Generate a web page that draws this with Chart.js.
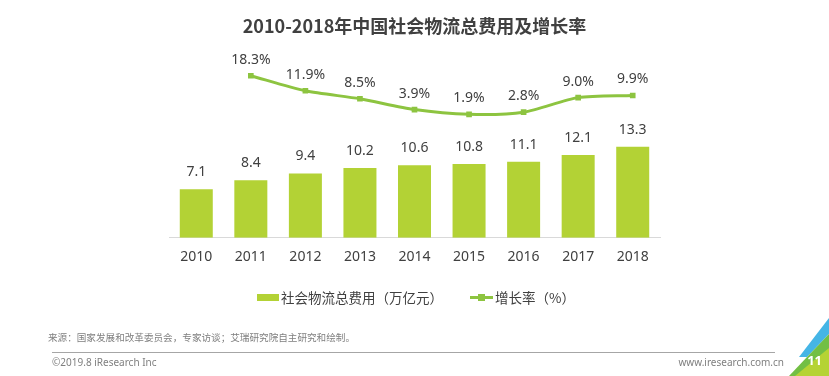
<!DOCTYPE html>
<html>
<head>
<meta charset="utf-8">
<script src="https://cdn.jsdelivr.net/npm/chart.js@4.4.1/dist/chart.umd.min.js"></script>
<style>
  html, body { margin: 0; padding: 0; background: #fff; }
  body { width: 829px; height: 376px; position: relative; overflow: hidden;
         font-family: "Noto Sans", "Noto Sans CJK SC", sans-serif; }
  #wrap { position: absolute; left: 0; top: 0; width: 829px; height: 376px; }
  .abs { position: absolute; white-space: nowrap; }
  #title { left: 0; width: 829px; top: 13px; text-align: center; font-size: 18px; font-weight: bold;
           color: #404040; font-family: "Noto Sans CJK SC", "Noto Sans", sans-serif; line-height: 24px; }
  .leg { font-size: 13.5px; color: #404040; font-family: "Noto Sans CJK SC", sans-serif; line-height: 18px; }
  #src { left: 48px; top: 330px; font-size: 9.6px; color: #7f7f7f; font-family: "Noto Sans CJK SC", sans-serif; line-height: 14px; }
  #sep { left: 52px; top: 352px; width: 723px; height: 1px; background: #a6a6a6; }
  #copy { left: 52px; top: 355px; font-size: 10px; color: #7f7f7f; line-height: 14px; }
  #web { right: 45px; top: 355px; font-size: 10px; color: #7f7f7f; line-height: 14px; }
  #deco { position: absolute; left: 0; top: 0; }
  #pg { right: 7px; top: 352px; font-size: 13px; font-weight: bold; color: #fff; line-height: 16px; }
</style>
</head>
<body>
<div id="wrap"><canvas id="c" width="829" height="376"></canvas></div>
<div class="abs" id="title">2010-2018年中国社会物流总费用及增长率</div>

<div class="abs" style="left:257px;top:294px;width:22px;height:7px;background:#b3d235;"></div>
<div class="abs leg" style="left:281px;top:288px;">社会物流总费用（万亿元）</div>
<div class="abs" style="left:470px;top:296px;width:23px;height:3px;background:#8dc440;"></div>
<div class="abs" style="left:478px;top:294px;width:7px;height:7px;background:#8dc440;"></div>
<div class="abs leg" style="left:495px;top:288px;">增长率（%）</div>

<div class="abs" id="src">来源：国家发展和改革委员会，专家访谈；艾瑞研究院自主研究和绘制。</div>
<div class="abs" id="sep"></div>
<div class="abs" id="copy">©2019.8 iResearch Inc</div>
<div class="abs" id="web">www.iresearch.com.cn</div>
<svg id="deco" width="829" height="376">
  <polygon points="829,318 829,334 807,357 799,357" fill="#45b5e6"/>
  <polygon points="829,334 829,376 789,376 807,357" fill="#72bf44"/>
  <polygon points="829,348 829,376 795,376" fill="#b5d334"/>
</svg>
<div class="abs" id="pg">11</div>

<script>
const years = ["2010","2011","2012","2013","2014","2015","2016","2017","2018"];
const logisticsCost = [7.1, 8.4, 9.4, 10.2, 10.6, 10.8, 11.1, 12.1, 13.3];
const growthRate = [null, 18.3, 11.9, 8.5, 3.9, 1.9, 2.8, 9.0, 9.9];

const labelPlugin = {
  id: 'valueLabels',
  afterDatasetsDraw(chart) {
    const ctx = chart.ctx;
    ctx.save();
    ctx.font = '14px "Noto Sans", sans-serif';
    ctx.fillStyle = '#404040';
    ctx.textAlign = 'center';
    ctx.textBaseline = 'middle';
    chart.data.datasets.forEach((ds, di) => {
      const meta = chart.getDatasetMeta(di);
      meta.data.forEach((el, i) => {
        const v = ds.data[i];
        if (v === null || v === undefined) return;
        const txt = ds.type === 'line' ? v.toFixed(1) + '%' : v.toFixed(1);
        const off = ds.type === 'line' ? 16 : 17;
        ctx.fillText(txt, el.x, el.y - off);
      });
    });
    ctx.restore();
  }
};

new Chart(document.getElementById('c'), {
  data: {
    labels: years,
    datasets: [
      {
        type: 'line',
        label: '增长率（%）',
        data: growthRate,
        yAxisID: 'y1',
        borderColor: '#8dc440',
        backgroundColor: '#8dc440',
        borderWidth: 3,
        pointStyle: 'rect',
        pointRadius: 4,
        pointBorderWidth: 0,
        tension: 0.25,
        spanGaps: false,
        order: 0
      },
      {
        type: 'bar',
        label: '社会物流总费用（万亿元）',
        data: logisticsCost,
        yAxisID: 'y',
        backgroundColor: '#b3d235',
        categoryPercentage: 1,
        barPercentage: 0.605,
        order: 1
      }
    ]
  },
  options: {
    responsive: false,
    animation: false,
    layout: { padding: { left: 169, right: 169, top: 60, bottom: 108.3 } },
    plugins: { legend: { display: false }, title: { display: false }, tooltip: { enabled: false } },
    scales: {
      x: {
        grid: { display: false, drawTicks: false },
        border: { display: true, color: '#d9d9d9', width: 1 },
        ticks: { color: '#404040', font: { size: 14, family: '"Noto Sans", sans-serif' }, padding: 11 },
        afterFit(scale) { scale.height = 30; }
      },
      y: { display: false, min: 0, max: 26 },
      y1: { display: false, min: -50.6, max: 25 }
    }
  },
  plugins: [labelPlugin]
});
</script>
</body>
</html>
